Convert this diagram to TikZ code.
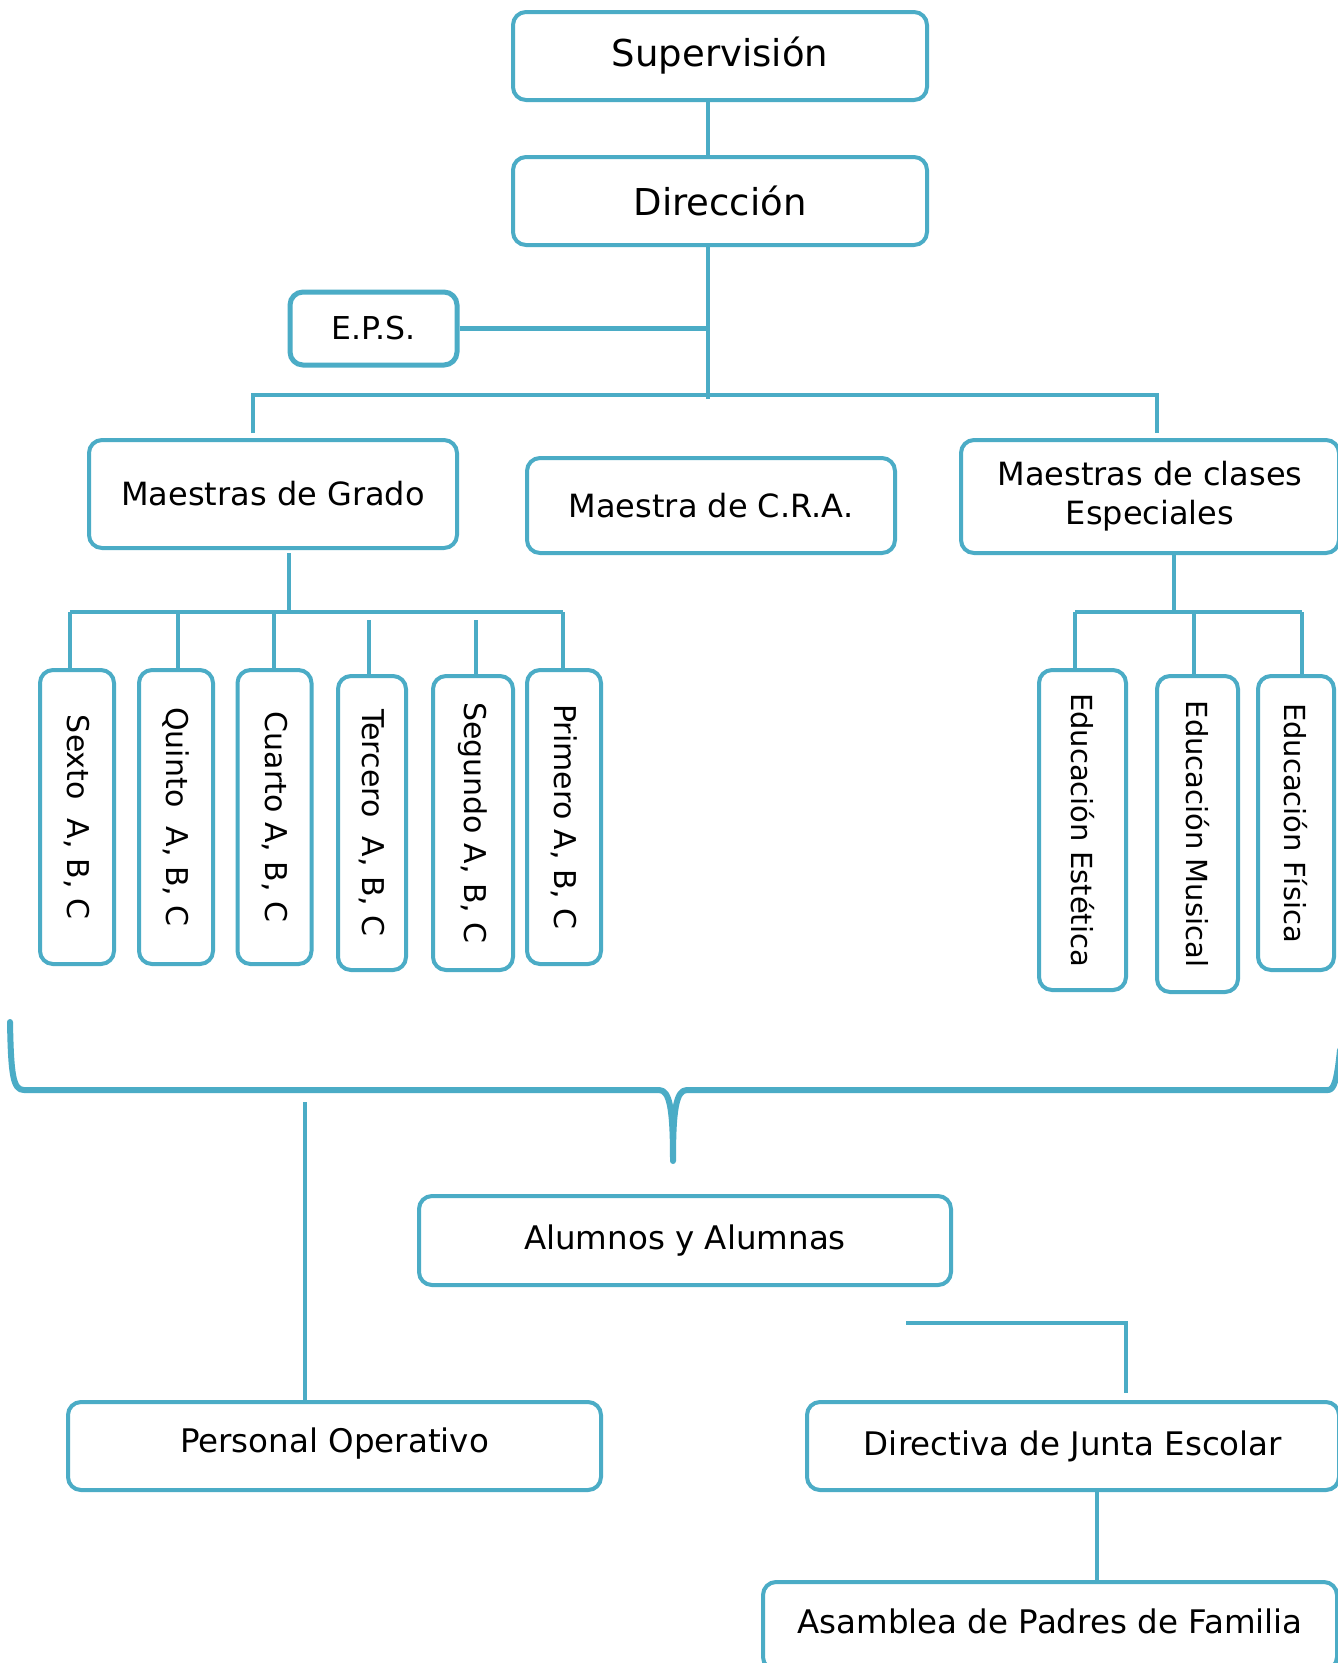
\documentclass[tikz,border=0pt]{standalone}
\usepackage{fontspec}
\usepackage{graphicx}
\setmainfont{DejaVu Sans}
\definecolor{aqua}{HTML}{4BACC6}
\tikzset{
  box/.style={draw=aqua, line width=4pt, rounded corners=13pt, fill=white, align=center, inner sep=0pt, font=\fontsize{32.5}{39}\selectfont},
  bigbox/.style={box, font=\fontsize{37}{44}\selectfont},
  vbox/.style={box, font=\fontsize{30}{34}\selectfont},
  conn/.style={draw=aqua, line width=3.5pt},
  brace/.style={draw=aqua, line width=6pt, line cap=round, line join=round}
}
\begin{document}
\begin{tikzpicture}[x=1pt,y=-1pt]
\useasboundingbox[fill=white] (0,0) rectangle (1338,1663);
% top
\node[bigbox, minimum width=414, minimum height=88] (sup) at (720,56) {Supervisión};
\node[bigbox, minimum width=414, minimum height=88] (dir) at (720,201) {Dirección};
\node[box, line width=5pt, minimum width=167, minimum height=73, font=\fontsize{31.5}{36}\selectfont] (eps) at (373.5,328.5) {E.P.S.};
\coordinate (t1) at (708,0);
\coordinate (hub) at (708,399);
\coordinate (busL) at (253,395);
\coordinate (busR) at (1157,395);
\coordinate (dropL) at (253,433);
\coordinate (dropR) at (1157,433);
\draw[conn] (sup.south -| t1) -- (dir.north -| t1);
\draw[conn] (dir.south -| t1) -- (hub);
\draw[conn, line width=4.5pt] (eps.east) -- (eps.east -| t1);
\draw[conn, line width=4.5pt] (dropL) -- (busL) -- (busR) -- (dropR);
% second row
\node[box, minimum width=368, minimum height=108, font=\fontsize{32}{39}\selectfont] (grado) at (273,494) {Maestras de Grado};
\node[box, minimum width=368, minimum height=95, font=\fontsize{32}{39}\selectfont] (cra) at (711,505.5) {Maestra de C.R.A.};
\node[box, minimum width=378, minimum height=113, font=\fontsize{32}{39}\selectfont] (esp) at (1150,496.5) {\raisebox{-3pt}{\parbox{370pt}{\centering Maestras de clases\\Especiales}}};
% grades
\node[vbox, minimum width=74, minimum height=294] (sexto) at (77,817) {\rotatebox{-90}{Sexto\ \ A, B, C}};
\node[vbox, minimum width=74, minimum height=294] (quinto) at (176,817) {\rotatebox{-90}{Quinto\ \ A, B, C}};
\node[vbox, minimum width=74, minimum height=294] (cuarto) at (274.5,817) {\rotatebox{-90}{Cuarto A, B, C}};
\node[vbox, minimum width=68, minimum height=294] (tercero) at (372,823) {\rotatebox{-90}{Tercero\ \ A, B, C}};
\node[vbox, minimum width=80, minimum height=294] (segundo) at (473,823) {\rotatebox{-90}{Segundo A, B, C}};
\node[vbox, minimum width=74, minimum height=294] (primero) at (564,817) {\rotatebox{-90}{Primero A, B, C}};
\coordinate (g1) at (289,553);
\coordinate (g2) at (289,612);
\coordinate (gbL) at (70,612);
\coordinate (gbR) at (563,612);
\draw[conn] (g1) -- (g2);
\draw[conn] (gbL) -- (gbR);
\draw[conn] (gbL) -- (gbL |- sexto.north);
\draw[conn] (178,612) -- (178,670);
\draw[conn] (274,612) -- (274,670);
\draw[conn] (369,620) -- (369,676);
\draw[conn] (476,620) -- (476,676);
\draw[conn] (gbR) -- (gbR |- primero.north);
% special classes
\node[vbox, minimum width=87, minimum height=320, font=\fontsize{29}{34}\selectfont] (estetica) at (1082.5,830) {\rotatebox{-90}{Educación Estética}};
\node[vbox, minimum width=81, minimum height=316, font=\fontsize{29}{34}\selectfont] (musical) at (1197.5,834) {\rotatebox{-90}{Educación Musical}};
\node[vbox, minimum width=76, minimum height=294, font=\fontsize{29}{34}\selectfont] (fisica) at (1296,823) {\rotatebox{-90}{Educación Física}};
\coordinate (e1) at (1174,553);
\coordinate (e2) at (1174,612);
\coordinate (ebL) at (1075,612);
\coordinate (ebR) at (1302,612);
\draw[conn] (e1) -- (e2);
\draw[conn] (ebL) -- (ebR);
\draw[conn] (ebL) -- (ebL |- estetica.north);
\draw[conn] (1194,612) -- (1194,676);
\draw[conn] (ebR) -- (ebR |- fisica.north);
% brace
\coordinate (bl) at (10,1022);
\coordinate (tip) at (673,1161);
\coordinate (br) at (1340,1050);
\draw[brace] (bl) .. controls (11,1075) and (13,1090) .. (24,1090)
  -- (659,1090) .. controls (670,1090) and (673,1110) .. (tip)
  .. controls (673,1110) and (676,1090) .. (687,1090)
  -- (1328,1090) .. controls (1334,1090) and (1337,1080) .. (br);
% bottom
\node[box, minimum width=532, minimum height=89] (alum) at (685,1240.5) {\raisebox{-3pt}{Alumnos y Alumnas}};
\node[box, minimum width=533, minimum height=88] (pers) at (334.5,1446) {\raisebox{11pt}{Personal Operativo}};
\node[box, minimum width=532, minimum height=88] (junta) at (1073,1446) {\raisebox{-5pt}{Directiva de Junta Escolar}};
\node[box, minimum width=574, minimum height=88] (asam) at (1050,1626) {\raisebox{10pt}{Asamblea de Padres de Familia}};
\coordinate (p1) at (305,1102);
\draw[conn] (p1) -- (p1 |- pers.north);
\coordinate (j1) at (906,1323);
\coordinate (j2) at (1126,1323);
\coordinate (j3) at (1126,1393);
\draw[conn] (j1) -- (j2) -- (j3);
\draw[conn] (junta.south -| 1097,0) -- (asam.north -| 1097,0);
\end{tikzpicture}
\end{document}
